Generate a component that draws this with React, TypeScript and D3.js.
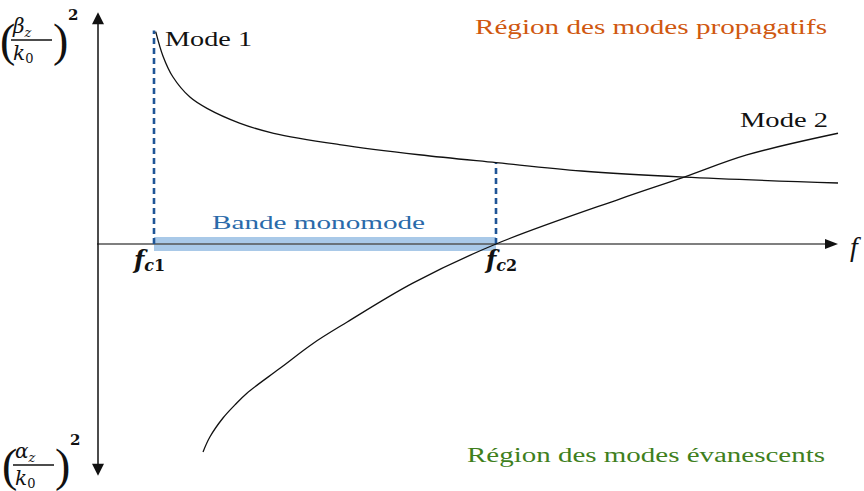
import React from "react";
import * as d3 from "d3";

// Dispersion curves (normalised frequency f, normalised (beta/k0)^2 ; negative side = (alpha/k0)^2)
const mode1F = [1.03, 1.16, 1.33, 1.63, 1.93, 2.5, 3.1, 4.25, 5.65, 7.0, 8.5, 10.3, 13];
const mode1V = [0.94, 0.83, 0.74, 0.65, 0.6, 0.535, 0.49, 0.44, 0.395, 0.36, 0.323, 0.296, 0.27];

const mode2F = [1.86, 1.98, 2.21, 2.42, 2.63, 3.21, 3.79, 4.39, 5.54, 7.0, 9.18, 10.3, 11.4, 13];
const mode2V = [-0.92, -0.854, -0.77, -0.712, -0.66, -0.55, -0.44, -0.345, -0.173, 0, 0.2, 0.296, 0.394, 0.49];

// Cut-off frequencies and the value of mode 1 at each one
const cutoffF = [1.0, 7.0];
const cutoffTop = [0.945, 0.36];
const cutoffNames = ["1", "2"];

const W = 864;
const H = 491;

const x = d3.scaleLinear().domain([0, 13]).range([97, 838]);
const y = d3.scaleLinear().domain([-1, 1]).range([470, 18]);

const serif = '"Liberation Serif", "DejaVu Serif", "Times New Roman", serif';
const mathFont = '"DejaVu Serif", "Liberation Serif", serif';

function Fraction(props: { x: number; y: number; top: string }) {
  const { x: fx, y: fy, top } = props;
  // fy is the fraction bar position
  return (
    <g fill="#111" style={{ fontFamily: mathFont }}>
      <text x={fx} y={fy + 16} fontSize={46} fontWeight={300} style={{ fontFamily: serif }}>
        (
      </text>
      <text x={fx + 13} y={fy - 7} fontStyle="italic">
        <tspan fontSize={20}>{top}</tspan>
        <tspan fontSize={13} dy={4}>z</tspan>
      </text>
      <line x1={fx + 11} x2={fx + 52} y1={fy} y2={fy} stroke="#111" strokeWidth={1.3} />
      <text x={fx + 13} y={fy + 20}>
        <tspan fontSize={20} fontStyle="italic">k</tspan>
        <tspan fontSize={13} dy={3}>0</tspan>
      </text>
      <text x={fx + 53} y={fy + 16} fontSize={46} fontWeight={300} style={{ fontFamily: serif }}>
        )
      </text>
      <text x={fx + 68} y={fy - 20} fontSize={15} fontWeight="bold">
        2
      </text>
    </g>
  );
}

export default function App() {
  const line = d3
    .line<[number, number]>()
    .x((d) => x(d[0]))
    .y((d) => y(d[1]))
    .curve(d3.curveCatmullRom.alpha(0.5));

  const m1 = line(mode1F.map((f, i) => [f, mode1V[i]] as [number, number])) || "";
  const m2 = line(mode2F.map((f, i) => [f, mode2V[i]] as [number, number])) || "";

  const x0 = x(0);
  const y0 = y(0);
  const yTop = y(1.025);
  const yBot = y(-1.025);
  const xEnd = x(13);

  return (
    <svg
      width={W}
      height={H}
      style={{ position: "absolute", left: 0, top: 0, background: "#fff", fontFamily: serif }}
    >
      {/* single-mode band */}
      <rect
        x={x(cutoffF[0])}
        y={y0 - 7}
        width={x(cutoffF[1]) - x(cutoffF[0])}
        height={14}
        fill="#a9c9e8"
      />

      {/* horizontal axis */}
      <line x1={x0} x2={xEnd - 10} y1={y0} y2={y0} stroke="#555" strokeWidth={1.4} />
      <path d={`M${xEnd},${y0} L${xEnd - 13},${y0 - 5} L${xEnd - 13},${y0 + 5} Z`} fill="#111" />
      <text x={850} y={256} fontSize={28} fontStyle="italic" fill="#111">
        f
      </text>

      {/* vertical axis */}
      <line x1={x0 + 1} x2={x0 + 1} y1={yTop + 10} y2={yBot - 10} stroke="#111" strokeWidth={1.5} />
      <path d={`M${x0 + 1},${yTop} L${x0 - 5},${yTop + 12} L${x0 + 7},${yTop + 12} Z`} fill="#111" />
      <path d={`M${x0 + 1},${yBot} L${x0 - 5},${yBot - 12} L${x0 + 7},${yBot - 12} Z`} fill="#111" />

      {/* cut-off markers */}
      {cutoffF.map((f, i) => (
        <line
          key={"c" + i}
          x1={x(f)}
          x2={x(f)}
          y1={y0}
          y2={y(cutoffTop[i])}
          stroke="#1f5596"
          strokeWidth={2.6}
          strokeDasharray="6,4"
        />
      ))}

      {/* mode curves */}
      <path d={m1} fill="none" stroke="#111" strokeWidth={1.3} />
      <path d={m2} fill="none" stroke="#111" strokeWidth={1.3} />

      {/* cut-off labels */}
      {cutoffF.map((f, i) => (
        <text
          key={"l" + i}
          x={x(f) - (i === 0 ? 20 : 10)}
          y={268}
          fill="#111"
          fontWeight="bold"
          style={{ fontFamily: mathFont }}
        >
          <tspan fontSize={24} fontStyle="italic">f</tspan>
          <tspan fontSize={16} dy={3} fontStyle="italic">c</tspan>
          <tspan fontSize={16}>{cutoffNames[i]}</tspan>
        </text>
      ))}

      {/* text labels */}
      <text x={165} y={46} fontSize={20} fill="#111" textLength={87} lengthAdjust="spacingAndGlyphs">
        Mode 1
      </text>
      <text x={740} y={127} fontSize={20} fill="#111" textLength={88} lengthAdjust="spacingAndGlyphs">
        Mode 2
      </text>
      <text x={212} y={229} fontSize={19} fill="#2a6aaa" textLength={213} lengthAdjust="spacingAndGlyphs">
        Bande monomode
      </text>
      <text x={475} y={34} fontSize={20} fill="#d0580f" textLength={352} lengthAdjust="spacingAndGlyphs">
        Région des modes propagatifs
      </text>
      <text x={467} y={462} fontSize={20} fill="#3f7f1d" textLength={358} lengthAdjust="spacingAndGlyphs">
        Région des modes évanescents
      </text>

      {/* axis titles: (beta_z / k0)^2 upward, (alpha_z / k0)^2 downward */}
      <Fraction x={0} y={40} top="β" />
      <Fraction x={2} y={465} top="α" />
    </svg>
  );
}
